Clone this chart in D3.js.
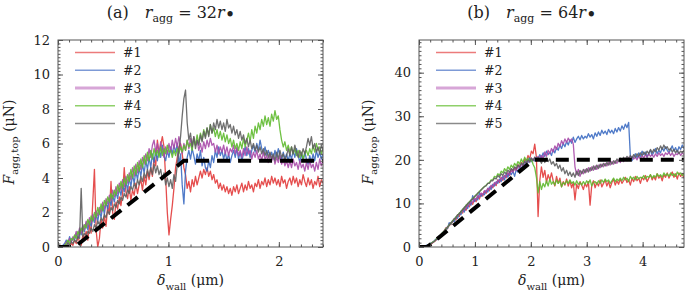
<!DOCTYPE html>
<html>
<head>
<meta charset="utf-8">
<script src="https://cdn.jsdelivr.net/npm/d3@7"></script>
<style>
  body { margin: 0; background: #fff; }
</style>
</head>
<body>
<div id="chart"></div>
<script>
const serif = "DejaVu Serif";

// sample spacing along delta_wall (um) for each panel
const stepA = 0.015;
const stepB = 0.03;

const runLabels = ["#1", "#2", "#3", "#4", "#5"];
const runColors = ["#e23b3b", "#3c6cc2", "#a94aa9", "#5fba2f", "#5f5f5f"];
const legendColors = ["#ec7b7b", "#7d9ad6", "#d7a6d7", "#8fd06a", "#8a8a8a"];

const xTicksA = [0, 1, 2];
const yTicksA = [0, 2, 4, 6, 8, 10, 12];
const xTicksB = [0, 1, 2, 3, 4];
const yTicksB = [0, 10, 20, 30, 40];

// dashed model curve
const modelXA = [0, 0.15, 1.14, 2.4];
const modelYA = [0, 0, 5, 5];
const modelXB = [0, 0.15, 2.05, 4.74];
const modelYB = [0, 0, 20, 20];

// panel (a): r_agg = 32 r
const runA1 = [0,0,0,0,0,0,0.1,0,0.2,0.1,
  0.4,0.2,0.6,0.3,0.1,0.7,0.5,0.9,0.4,1.3,
  0.8,2.6,4.5,1.0,0.0,0.5,1.6,1.1,1.8,1.2,
  2.4,1.9,3.8,2.0,1.6,2.6,2.2,2.9,2.4,3.1,
  4.6,3.2,2.8,3.5,2.7,3.3,3.0,3.7,3.1,3.6,
  3.9,3.3,4.1,3.6,4.4,3.9,4.6,4.1,5.2,4.7,
  6.2,5.4,5.9,6.4,5.8,4.0,2.0,0.7,1.6,2.4,
  3.4,4.6,5.2,5.8,6.0,5.4,4.6,4.2,3.4,3.8,
  3.2,3.9,3.5,4.1,3.6,4.0,4.4,4.0,4.5,4.2,
  4.6,4.1,4.4,3.9,4.2,3.7,3.9,3.4,3.7,3.3,
  3.6,3.2,3.5,3.1,3.4,3.0,3.5,3.2,3.6,3.1,
  3.4,3.7,3.2,3.6,3.3,3.8,3.4,3.6,3.2,3.7,
  3.5,3.9,3.4,3.8,3.6,4.0,3.5,3.9,3.6,4.1,
  3.7,4.0,3.6,3.9,3.5,4.1,3.7,3.9,3.4,3.8,
  4.0,3.6,4.1,3.7,4.0,3.5,3.9,3.6,4.2,3.8,
  3.5,4.0,3.6,3.9,3.4,3.8,3.6,4.1,3.5,3.9,
  3.7];
const runA2 = [0,0,0,0.1,0.2,0.4,0.2,0.6,0.3,0.5,
  0.4,0.8,0.5,1.0,0.7,1.2,0.9,1.4,1.0,1.5,
  1.2,1.7,1.4,1.9,1.5,2.1,1.7,2.4,1.9,2.6,
  2.2,2.8,2.4,3.0,2.6,3.2,2.8,3.4,3.0,3.6,
  3.2,3.8,3.3,4.0,3.5,4.2,3.7,4.4,3.9,4.6,
  4.1,4.8,4.3,5.0,4.5,5.2,4.6,5.4,4.9,5.6,
  5.0,5.7,5.2,5.9,5.3,5.0,5.6,5.2,5.8,5.4,
  5.9,5.5,6.0,4.8,5.4,3.6,2.5,4.4,5.2,5.6,
  5.1,5.7,5.3,4.8,5.4,5.0,5.6,4.7,5.2,4.6,
  4.4,5.0,4.6,5.3,4.9,5.6,5.2,5.8,5.3,5.6,
  5.1,5.5,5.0,5.4,4.9,5.3,5.6,5.2,5.7,5.1,
  5.5,5.0,5.4,5.8,5.3,5.7,5.2,5.6,5.9,5.5,
  6.0,5.6,6.2,5.7,5.4,5.8,5.3,5.6,5.2,5.5,
  5.1,5.6,5.2,5.7,5.3,5.0,5.5,5.1,5.4,5.0,
  5.4,5.1,5.6,5.2,5.7,5.3,4.9,5.4,5.0,5.5,
  5.1,4.8,5.3,4.9,5.4,5.0,5.6,5.2,5.5,5.1,
  5.4];
const runA3 = [0,0,0,0,0.1,0.3,0.2,0.5,0.3,0.6,
  0.5,0.9,0.6,1.1,0.8,1.3,1.0,1.5,1.2,1.7,
  1.4,1.9,1.6,2.1,1.8,2.3,2.0,2.6,2.2,2.8,
  2.5,3.0,2.7,3.3,2.9,3.5,3.1,3.7,3.3,3.9,
  3.5,4.1,3.7,4.3,3.9,4.6,4.1,4.8,4.3,5.0,
  4.5,5.2,4.8,5.4,5.0,5.7,5.2,5.9,6.2,5.5,
  6.0,5.4,6.1,5.6,5.2,5.8,5.4,6.0,5.5,6.2,
  5.7,6.3,5.8,6.4,5.9,5.4,6.0,5.6,6.2,5.7,
  6.3,5.8,6.4,5.9,6.2,5.6,6.0,5.5,6.1,5.7,
  6.2,5.8,6.3,5.9,6.0,5.5,5.9,5.4,5.8,5.5,
  5.9,5.4,5.8,5.3,5.7,5.5,5.9,5.4,5.8,5.3,
  5.6,5.2,5.7,5.3,5.8,5.4,5.6,5.1,5.5,5.2,
  5.6,5.1,5.4,5.0,5.5,5.1,5.3,4.9,5.4,5.0,
  5.3,4.8,5.2,4.9,5.3,4.8,5.1,4.7,5.0,4.6,
  5.0,4.6,5.1,4.7,4.9,4.5,5.0,4.6,4.8,4.4,
  4.9,4.5,5.0,4.6,4.8,4.4,4.9,4.5,5.1,4.7,
  5.0];
const runA4 = [0,0,0,0,0.1,0.2,0.4,0.2,0.5,0.4,
  0.7,0.5,0.9,0.7,1.1,0.9,1.3,1.1,1.6,1.3,
  1.8,1.5,2.0,1.7,2.3,1.9,2.5,2.1,2.7,2.4,
  2.9,2.6,3.1,2.8,3.3,3.0,3.6,3.2,3.8,3.4,
  4.0,3.6,4.2,3.8,4.5,4.0,4.7,4.2,4.9,4.4,
  5.1,4.6,5.3,4.8,5.5,5.0,5.6,5.1,5.7,5.3,
  5.6,5.2,5.8,5.3,5.7,5.4,5.9,5.5,5.6,5.2,
  5.6,5.3,5.7,5.4,5.8,5.5,5.9,5.6,6.2,5.8,
  6.0,5.6,6.3,5.9,6.5,6.0,6.6,6.2,6.8,6.4,
  6.9,6.5,7.1,6.6,6.9,6.4,6.8,6.3,6.7,6.2,
  6.6,6.1,6.5,6.0,6.3,5.8,6.2,5.7,6.0,5.6,
  6.1,5.7,6.3,5.8,6.2,6.6,6.1,6.8,6.3,7.0,
  6.6,7.2,6.8,7.4,7.0,7.6,7.1,7.5,7.0,7.7,
  7.3,7.9,7.4,7.6,6.8,6.2,5.8,6.1,5.6,5.9,
  5.5,5.8,5.4,5.7,5.3,5.6,5.2,5.5,5.1,5.4,
  5.6,5.3,5.7,5.4,5.9,5.5,6.0,5.6,5.8,5.4,
  5.7];
const runA5 = [0,0,0,0,0,0.1,0.2,0.1,0.3,0.2,
  0.4,0.3,0.6,0.5,3.4,0.6,0.8,0.6,0.9,0.8,
  1.1,0.9,1.3,1.1,1.5,1.3,1.7,1.5,1.9,1.7,
  2.1,1.9,2.3,2.1,2.5,2.3,2.7,2.5,2.9,2.7,
  3.1,2.9,3.3,3.1,3.5,3.3,3.7,3.4,3.9,3.6,
  4.1,3.8,4.3,4.0,4.5,4.1,4.6,4.2,4.8,4.3,
  4.7,4.2,4.5,3.9,4.3,3.6,4.0,3.5,3.9,3.4,
  4.2,3.8,4.8,5.6,6.4,7.6,8.6,9.1,7.2,6.2,
  6.6,5.8,6.4,5.7,6.2,5.9,6.5,6.1,6.7,6.3,
  6.9,6.4,7.1,6.6,7.2,6.8,7.4,6.9,7.3,6.8,
  7.2,6.7,7.4,6.9,7.1,6.6,7.0,6.5,6.8,6.3,
  6.7,6.2,6.5,6.0,6.3,5.8,6.2,5.7,6.0,5.6,
  5.9,5.5,5.8,5.4,5.7,5.3,5.6,5.2,5.5,5.1,
  5.4,5.0,5.5,5.1,5.6,5.2,5.4,5.0,5.3,5.7,
  5.3,5.8,5.4,5.9,5.5,5.2,5.6,5.3,5.7,5.4,
  5.8,6.3,5.9,6.4,5.7,6.0,5.5,5.8,5.4,5.9,
  5.6];

// panel (b): r_agg = 64 r
const runB1 = [0,0,0,0.1,0.2,0.3,0.5,0.6,0.9,1.2,
  1.5,2.2,2.0,2.9,3.1,3.6,4.4,4.2,5.3,5.1,
  5.9,6.4,6.2,7.4,7.0,8.1,7.8,8.9,8.4,9.6,
  9.2,10.1,9.8,10.9,10.4,11.6,11.0,12.2,11.7,12.8,
  12.3,13.4,12.9,14.0,13.6,14.6,14.1,15.4,14.8,16.0,
  15.3,16.4,15.9,17.0,16.4,17.8,17.1,18.2,17.6,18.9,
  18.2,19.4,18.9,20.2,19.6,21.0,20.2,22.0,21.4,23.6,
  20.6,7.0,15.2,18.4,16.0,17.6,14.8,16.6,15.4,17.0,
  15.2,14.0,16.2,14.6,15.8,13.8,15.0,14.2,15.6,14.0,
  15.2,13.6,14.8,10.8,14.4,13.4,15.0,14.2,13.2,14.6,
  13.8,15.0,9.6,14.2,15.2,13.6,14.8,14.0,15.4,13.8,
  14.6,15.4,14.0,15.0,13.6,14.8,15.6,14.2,15.2,14.4,
  15.6,14.6,15.2,16.0,14.8,15.4,14.2,15.8,15.0,16.2,
  15.2,15.8,14.6,16.0,15.4,16.4,15.0,15.8,16.6,15.4,
  16.2,15.4,16.8,15.8,16.4,15.2,16.6,16.0,17.0,15.8,
  16.6,17.2,16.0,16.8,15.6,17.0,16.2,16.8,15.8];
const runB2 = [0,0,0.1,0.2,0.3,0.5,0.6,0.9,1.1,1.4,
  1.8,1.7,2.5,2.6,3.3,3.4,4.3,4.2,5.6,5.2,
  6.1,5.8,6.9,6.6,7.6,7.4,8.6,8.0,9.3,8.8,
  10.0,9.6,11.8,10.4,11.2,10.8,12.4,11.6,12.2,12.0,
  13.0,12.6,13.8,13.2,14.4,14.0,15.0,14.6,15.6,15.0,
  16.2,15.4,16.8,16.0,17.2,16.6,17.4,16.2,17.8,17.2,
  18.4,17.8,19.2,18.6,20.0,19.4,20.4,19.6,20.2,19.8,
  20.6,20.0,21.2,20.4,21.6,20.8,22.0,21.2,21.8,21.0,
  22.4,21.6,22.8,22.2,23.4,22.6,23.8,23.0,24.2,23.4,
  24.6,23.8,25.2,24.0,24.8,25.4,24.6,25.6,24.8,25.4,
  25.0,26.0,25.2,25.8,24.8,26.2,25.4,26.4,25.6,26.8,
  26.0,26.6,25.8,27.0,26.2,26.8,26.0,27.2,26.4,27.4,
  26.6,27.8,27.0,28.2,27.4,28.6,21.0,19.8,20.6,21.4,
  20.4,21.6,20.8,22.0,21.2,21.8,20.6,21.6,22.2,21.0,
  21.8,22.6,21.4,22.2,21.6,22.8,22.0,23.0,22.2,21.6,
  22.4,23.2,22.0,22.8,21.8,23.0,22.4,23.4,22.6];
const runB3 = [0,0,0,0.1,0.2,0.4,0.5,0.8,1.0,1.3,
  1.6,1.9,2.4,2.7,3.2,3.6,4.1,4.6,5.0,5.5,
  5.8,6.4,6.6,7.3,7.4,8.2,8.1,9.0,8.8,9.8,
  9.6,10.4,10.2,11.2,10.8,11.8,11.4,12.4,12.0,12.9,
  12.6,13.5,13.2,14.2,13.8,14.8,14.4,15.4,15.0,15.9,
  15.6,16.4,16.2,17.0,16.6,17.6,17.2,18.0,17.6,18.6,
  18.2,19.0,18.6,19.6,19.2,20.0,19.4,20.4,19.8,20.6,
  20.0,20.8,20.2,21.0,20.4,21.8,20.8,22.2,21.4,22.6,
  21.8,23.2,22.4,23.8,23.0,24.4,23.6,24.8,24.0,25.0,
  24.2,24.8,23.6,18.4,16.6,17.8,16.2,17.4,16.8,17.8,
  17.2,18.2,17.4,18.4,17.6,18.6,17.8,18.8,18.2,19.0,
  18.4,19.2,18.6,19.4,18.8,19.6,19.0,19.8,19.2,20.0,
  19.4,20.2,19.6,20.4,19.8,20.6,20.0,20.8,20.2,20.6,
  20.0,20.8,20.2,21.0,20.4,21.2,20.6,21.4,20.8,21.2,
  20.6,21.4,20.8,21.6,21.0,21.4,20.8,21.6,21.2,21.8,
  21.0,21.6,20.8,21.4,21.2,21.8,21.0,21.6,21.2];
const runB4 = [0,0,0,0.1,0.3,0.4,0.6,0.8,1.1,1.3,
  1.7,2.0,2.4,2.8,3.3,3.6,4.2,4.5,5.1,5.4,
  6.0,6.3,6.9,7.2,7.8,8.0,8.7,8.9,9.6,9.8,
  10.4,10.6,11.2,11.4,12.0,12.2,12.8,13.0,13.6,13.8,
  14.2,14.6,14.8,15.4,15.4,16.2,16.0,16.8,16.4,17.4,
  17.0,18.0,17.4,18.4,17.8,18.8,18.2,19.2,18.6,19.6,
  19.0,20.2,19.4,20.6,19.8,20.4,19.6,20.2,19.0,18.2,
  16.0,12.4,15.0,13.2,14.6,13.8,15.2,14.0,15.6,14.4,
  15.0,14.2,15.4,14.6,15.2,13.8,14.8,14.4,15.2,14.6,
  15.4,14.6,15.0,14.2,15.2,14.4,14.8,14.2,15.0,14.4,
  15.2,14.6,15.4,14.0,14.8,15.0,14.4,15.2,14.6,15.4,
  14.8,15.6,15.0,15.4,14.6,15.2,15.8,15.0,15.6,15.2,
  15.8,15.2,16.0,15.4,15.8,15.0,16.2,15.6,16.0,15.4,
  16.2,15.6,16.0,15.8,16.4,15.6,16.2,16.0,16.6,15.8,
  16.4,16.0,16.8,16.2,16.6,16.0,17.0,16.4,16.8,16.2,
  17.0,16.4,16.8,16.2,17.2,16.6,17.0,16.4,16.8];
const runB5 = [0,0,0.1,0.1,0.2,0.4,0.5,0.7,1.0,1.2,
  1.6,1.9,2.3,2.8,3.1,3.7,4.0,4.6,4.9,5.6,
  5.8,6.5,6.7,7.4,7.6,8.2,8.5,9.1,9.4,10.0,
  10.2,10.8,11.0,11.6,11.8,12.4,12.6,13.2,13.4,13.9,
  14.0,14.6,14.6,15.2,15.2,15.8,15.6,16.4,16.0,16.8,
  16.4,17.2,16.8,17.6,17.2,18.0,17.6,18.4,18.0,18.8,
  18.4,19.2,18.8,19.6,19.2,20.0,19.6,20.4,19.8,20.6,
  19.8,20.6,20.0,19.2,20.2,19.4,20.4,19.6,20.2,19.0,
  19.6,18.6,19.2,18.0,18.8,17.4,18.2,16.8,17.6,16.4,
  17.2,16.2,17.0,16.0,17.4,16.4,17.6,16.8,17.8,17.0,
  18.0,17.2,18.2,17.6,18.6,17.8,18.8,18.0,19.0,18.4,
  19.2,18.6,19.4,18.8,19.6,19.0,19.8,19.2,20.2,19.6,
  20.4,19.8,20.6,20.0,20.8,20.2,21.0,20.4,21.2,20.6,
  21.4,20.8,21.6,21.0,21.8,21.2,22.0,21.4,22.4,21.6,
  22.4,21.8,22.8,22.2,23.2,22.4,23.4,22.6,23.0,22.2,
  22.6,21.8,22.4,21.6,22.2,21.4,22.0,21.6,22.2];

const svg = d3.select("#chart").append("svg")
  .attr("width", 685)
  .attr("height", 293)
  .attr("font-family", serif);

class Panel {
  constructor(_config) {
    this.config = _config;
    this.initVis();
  }

  initVis() {
    const vis = this;
    const c = vis.config;

    vis.xScale = d3.scaleLinear().domain(c.xDomain).range([c.left, c.right]);
    vis.yScale = d3.scaleLinear().domain(c.yDomain).range([c.bottom, c.top]);

    vis.g = svg.append("g");

    // clip so traces stay inside the frame
    vis.g.append("clipPath").attr("id", c.id + "-clip")
      .append("rect")
      .attr("x", c.left).attr("y", c.top)
      .attr("width", c.right - c.left).attr("height", c.bottom - c.top);

    vis.updateVis();
  }

  updateVis() {
    const vis = this;
    const c = vis.config;
    const x = vis.xScale, y = vis.yScale;

    const line = d3.line()
      .x((d, i) => x(i * c.step))
      .y(d => y(d));

    const plot = vis.g.append("g").attr("clip-path", `url(#${c.id}-clip)`);

    plot.selectAll(".run")
      .data(c.runs)
      .join("path")
      .attr("class", "run")
      .attr("fill", "none")
      .attr("stroke", (d, i) => runColors[i])
      .attr("stroke-width", 1.3)
      .attr("stroke-opacity", 0.9)
      .attr("stroke-linejoin", "round")
      .attr("d", line);

    // model (dashed)
    const model = c.modelX.map((v, i) => [v, c.modelY[i]]);
    plot.append("path")
      .datum(model)
      .attr("fill", "none")
      .attr("stroke", "#000")
      .attr("stroke-width", 4)
      .attr("stroke-dasharray", "13,8")
      .attr("d", d3.line().x(d => x(d[0])).y(d => y(d[1])));

    // axes: major and minor ticks on all four sides, pointing inward
    const major = 5, minor = 2.5;
    const xMinor = d3.range(c.xDomain[0], c.xDomain[1] + 1e-9, c.xMinorStep);
    const yMinor = d3.range(c.yDomain[0], c.yDomain[1] + 1e-9, c.yMinorStep);

    const addAxis = (axis, tr) => {
      const a = vis.g.append("g").attr("transform", tr).call(axis);
      a.attr("font-family", serif).attr("font-size", 13);
      a.select(".domain").remove();
      a.selectAll("line").attr("stroke", "#555");
      a.selectAll("text").attr("fill", "#222");
      return a;
    };

    addAxis(d3.axisBottom(x).tickValues(xMinor).tickSize(-minor).tickFormat(""), `translate(0,${c.bottom})`);
    addAxis(d3.axisTop(x).tickValues(xMinor).tickSize(-minor).tickFormat(""), `translate(0,${c.top})`);
    addAxis(d3.axisLeft(y).tickValues(yMinor).tickSize(-minor).tickFormat(""), `translate(${c.left},0)`);
    addAxis(d3.axisRight(y).tickValues(yMinor).tickSize(-minor).tickFormat(""), `translate(${c.right},0)`);

    addAxis(d3.axisBottom(x).tickValues(c.xTicks).tickSize(-major).tickPadding(10).tickFormat(d3.format("d")), `translate(0,${c.bottom})`);
    addAxis(d3.axisTop(x).tickValues(c.xTicks).tickSize(-major).tickFormat(""), `translate(0,${c.top})`);
    addAxis(d3.axisLeft(y).tickValues(c.yTicks).tickSize(-major).tickPadding(8).tickFormat(d3.format("d")), `translate(${c.left},0)`);
    addAxis(d3.axisRight(y).tickValues(c.yTicks).tickSize(-major).tickFormat(""), `translate(${c.right},0)`);

    // frame
    vis.g.append("rect")
      .attr("x", c.left).attr("y", c.top)
      .attr("width", c.right - c.left).attr("height", c.bottom - c.top)
      .attr("fill", "none")
      .attr("stroke", "#555")
      .attr("stroke-width", 1);

    // legend
    const leg = vis.g.selectAll(".legend")
      .data(runLabels)
      .join("g")
      .attr("class", "legend")
      .attr("transform", (d, i) => `translate(${c.left + 17},${52.5 + i * 17.75})`);

    leg.append("line")
      .attr("x1", 0).attr("x2", 40)
      .attr("stroke", (d, i) => legendColors[i])
      .attr("stroke-width", (d, i) => i === 2 ? 3 : 1.3);

    leg.append("text")
      .attr("x", 48).attr("y", 4.5)
      .attr("font-size", 12.5)
      .attr("fill", "#222")
      .text(d => d);

    // title
    const t = vis.g.append("text")
      .attr("x", c.titleX).attr("y", 18)
      .attr("text-anchor", "middle")
      .attr("font-size", 16)
      .attr("fill", "#222");
    t.append("tspan").text(c.tag + "\u2003");
    t.append("tspan").attr("font-style", "italic").text("r");
    t.append("tspan").attr("dy", 4).attr("font-size", 11).text("agg");
    t.append("tspan").attr("dy", -4).text(" = " + c.ratio);
    t.append("tspan").attr("font-style", "italic").text("r");
    t.append("tspan").attr("dy", 3).attr("font-size", 18).text("\u2022");

    // x label
    const xl = vis.g.append("text")
      .attr("x", (c.left + c.right) / 2).attr("y", 285)
      .attr("text-anchor", "middle")
      .attr("font-size", 14)
      .attr("fill", "#222");
    xl.append("tspan").attr("font-style", "italic").text("\u03b4");
    xl.append("tspan").attr("dy", 4.5).attr("font-size", 10).text("wall");
    xl.append("tspan").attr("dy", -4.5).text(" (\u03bcm)");

    // y label
    const yl = vis.g.append("text")
      .attr("transform", `translate(${c.yLabelX},142) rotate(-90)`)
      .attr("text-anchor", "middle")
      .attr("font-size", 14)
      .attr("fill", "#222");
    yl.append("tspan").attr("font-style", "italic").text("F");
    yl.append("tspan").attr("dy", 4).attr("font-size", 10).text("agg,top");
    yl.append("tspan").attr("dy", -4).text(" (\u03bcN)");
  }
}

new Panel({
  id: "pa", tag: "(a)", ratio: "32", titleX: 171,
  left: 58, right: 323, top: 40, bottom: 247, yLabelX: 14,
  xDomain: [0, 2.4], yDomain: [0, 12],
  xTicks: xTicksA, yTicks: yTicksA, xMinorStep: 0.1, yMinorStep: 0.2,
  step: stepA, runs: [runA1, runA2, runA3, runA4, runA5],
  modelX: modelXA, modelY: modelYA
});

new Panel({
  id: "pb", tag: "(b)", ratio: "64", titleX: 532,
  left: 419, right: 684, top: 40, bottom: 247, yLabelX: 373,
  xDomain: [0, 4.74], yDomain: [0, 47.5],
  xTicks: xTicksB, yTicks: yTicksB, xMinorStep: 0.2, yMinorStep: 1,
  step: stepB, runs: [runB1, runB2, runB3, runB4, runB5],
  modelX: modelXB, modelY: modelYB
});
</script>
</body>
</html>
